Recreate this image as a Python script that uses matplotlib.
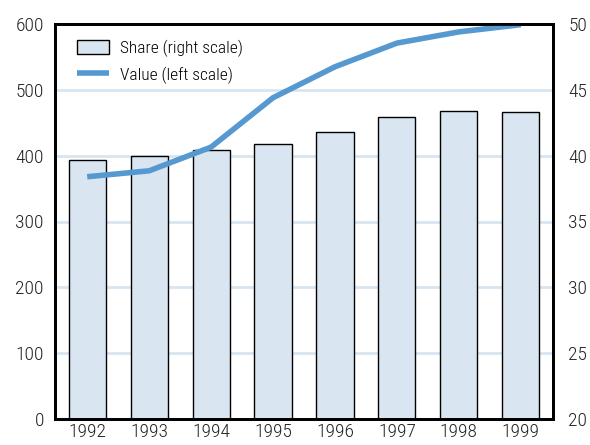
import matplotlib
matplotlib.use("Agg")
import matplotlib.pyplot as plt
import numpy as np

plt.rcParams['font.family'] = ['Roboto Condensed', 'DejaVu Sans']
plt.rcParams['font.weight'] = 'light'

years = ["1992", "1993", "1994", "1995", "1996", "1997", "1998", "1999"]
share = [39.7, 40.0, 40.4, 40.9, 41.8, 42.9, 43.4, 43.3]      # right scale
value = [368, 377, 413, 488, 535, 571, 588, 599]             # left scale

bar_fill = '#d9e5f1'
line_col = '#5599d0'
grid_col = '#d7e5f1'

fig = plt.figure(figsize=(5.9, 4.45), dpi=100)
ax = fig.add_axes([55/590, 26/445, 498/590, 395/445])
ax2 = ax.twinx()

x = np.arange(len(years))

# bars on the right scale, line on the left scale
bars = ax2.bar(x, share, width=0.6, color=bar_fill, edgecolor='black', linewidth=1.0,
               zorder=2)
ax2.set_ylim(20, 50)
ax2.set_yticks(np.arange(20, 51, 5))

ax.set_ylim(0, 600)
ax.set_yticks(np.arange(0, 601, 100))
ax.set_xlim(-0.52, 7.52)
ax.set_xticks(x)
ax.set_xticklabels(years)

for yv in np.arange(100, 600, 100):
    ax2.axhline(20 + yv / 20, color=grid_col, linewidth=2, zorder=1)

# line goes over the bars
ax.set_zorder(ax2.get_zorder() + 1)
ax.patch.set_visible(False)
line, = ax.plot(x, value, color=line_col, linewidth=4, solid_capstyle='butt')

for a in (ax, ax2):
    for s in a.spines.values():
        s.set_linewidth(2)
    a.tick_params(length=0, labelsize=14, colors='#222222')
ax.tick_params(axis='y', pad=8)
ax.tick_params(axis='x', pad=3)
ax2.tick_params(axis='y', pad=11)

ax.legend([bars, line], ['Share (right scale)', 'Value (left scale)'],
          loc='upper left', bbox_to_anchor=(0.013, 1.0), frameon=False,
          fontsize=12.5, handlelength=1.85, handleheight=0.9, labelspacing=0.55,
          handletextpad=0.6)

fig.savefig('out.png', dpi=100)
